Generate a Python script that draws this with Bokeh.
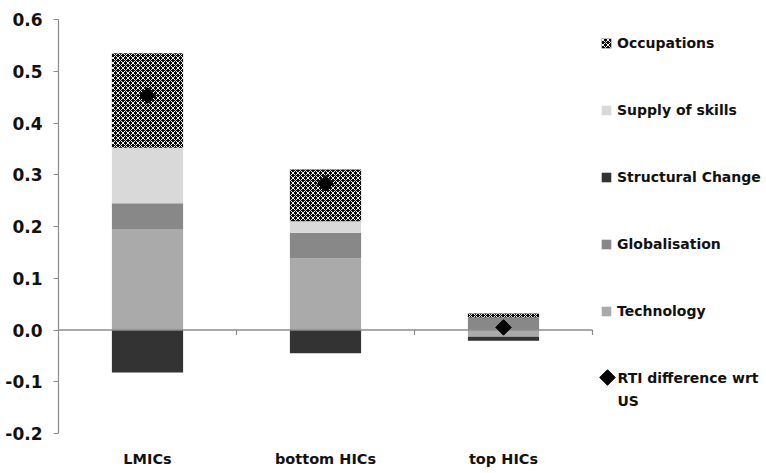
import numpy as np
from bokeh.plotting import figure
from bokeh.models import (Range1d, FixedTicker, PrintfTickFormatter, Legend,
                          LegendItem, ColumnDataSource, Label)
from bokeh.embed import file_html
from bokeh.resources import INLINE

categories = ["LMICs", "bottom HICs", "top HICs"]
technology = [0.195, 0.138, -0.013]
globalisation = [0.050, 0.050, 0.024]
structural_change = [-0.082, -0.045, -0.008]
supply_of_skills = [0.107, 0.022, 0.000]
occupations = [0.183, 0.100, 0.008]
rti_difference = [0.453, 0.283, 0.005]
y_ticks = [-0.2, -0.1, 0.0, 0.1, 0.2, 0.3, 0.4, 0.5, 0.6]

series = [
    ("Technology", technology, dict(fill_color="#aaaaaa")),
    ("Globalisation", globalisation, dict(fill_color="#888888")),
    ("Structural Change", structural_change, dict(fill_color="#333333")),
    ("Supply of skills", supply_of_skills, dict(fill_color="#d9d9d9")),
    ("Occupations", occupations, dict(fill_color="#0a0a0a", hatch_pattern="diagonal_cross",
                                      hatch_color="#f0f0f0", hatch_scale=5, hatch_weight=1.0)),
]

FONT = "DejaVu Sans"
W, H = 766, 473
LEFT, TOP, BOTTOM = 58, 19, 40
AXIS_PX = 534                      # pixel width of the category axis area
n = len(categories)
frame_w = W - LEFT
frame_h = H - TOP - BOTTOM
x_end = n * frame_w / AXIS_PX      # extra room on the right holds the legend
y0, y1 = -0.2, 0.6


def px_to_data(px, py):
    """Convert page pixel position to data coordinates (for legend decorations)."""
    return ((px - LEFT) * x_end / frame_w, y0 + (H - BOTTOM - py) * (y1 - y0) / frame_h)


p = figure(width=W, height=H, output_backend="svg", toolbar_location=None,
           x_range=Range1d(0, x_end), y_range=Range1d(y0, y1),
           min_border_left=LEFT, min_border_right=0, min_border_top=TOP,
           min_border_bottom=BOTTOM)
p.outline_line_color = None
p.xgrid.visible = False
p.ygrid.visible = False
p.background_fill_color = "white"
p.border_fill_color = "white"

xs = np.arange(n) + 0.5
pos_base = np.zeros(n)
neg_base = np.zeros(n)
renderers = {}
for name, vals, style in series:
    v = np.array(vals, dtype=float)
    bottoms = np.where(v >= 0, pos_base, neg_base)
    tops = bottoms + v
    pos_base = np.where(v >= 0, tops, pos_base)
    neg_base = np.where(v < 0, tops, neg_base)
    src = ColumnDataSource(dict(x=xs, bottom=bottoms, top=tops))
    r = p.vbar(x="x", bottom="bottom", top="top", width=0.4, source=src,
               line_color=None, **style)
    renderers[name] = r

# horizontal axis line at zero with small tick marks between categories
p.segment(x0=[0], y0=[0], x1=[n], y1=[0], line_color="#8c8c8c", line_width=1.5)
bounds = np.arange(1, n + 1)
tick_len = 5 * (y1 - y0) / frame_h
p.segment(x0=bounds, y0=[0] * n, x1=bounds, y1=[-tick_len] * n,
          line_color="#8c8c8c", line_width=1.2)

diamond_style = dict(marker="square", angle=np.pi / 4, size=11,
                     fill_color="black", line_color="black")
rti = p.scatter(x=xs, y=rti_difference, **diamond_style)

# y axis
p.yaxis.ticker = FixedTicker(ticks=y_ticks)
p.yaxis.formatter = PrintfTickFormatter(format="%.1f")
p.yaxis.axis_line_color = "#8c8c8c"
p.yaxis.axis_line_width = 1.2
p.yaxis.major_tick_line_color = "#8c8c8c"
p.yaxis.major_tick_out = 5
p.yaxis.major_tick_in = 0
p.yaxis.minor_tick_line_color = None
p.yaxis.major_label_text_font = FONT
p.yaxis.major_label_text_font_style = "bold"
p.yaxis.major_label_text_font_size = "17px"
p.yaxis.major_label_text_color = "#111111"
p.yaxis.major_label_standoff = 11

# x axis (category labels only)
p.xaxis.ticker = FixedTicker(ticks=list(xs))
p.xaxis.major_label_overrides = {float(x): c for x, c in zip(xs, categories)}
p.xaxis.axis_line_color = None
p.xaxis.major_tick_line_color = None
p.xaxis.minor_tick_line_color = None
p.xaxis.major_tick_out = 0
p.xaxis.major_label_standoff = 17
p.xaxis.major_label_text_font = FONT
p.xaxis.major_label_text_font_style = "bold"
p.xaxis.major_label_text_font_size = "14.5px"
p.xaxis.major_label_text_color = "#111111"

items = [LegendItem(label=name, renderers=[renderers[name]])
         for name in ["Occupations", "Supply of skills", "Structural Change",
                      "Globalisation", "Technology"]]
legend = Legend(items=items, location=(542, 112), spacing=47, label_height=20,
                glyph_width=12, glyph_height=12, label_standoff=5,
                orientation="vertical", margin=0, padding=0,
                label_text_font=FONT, label_text_font_style="bold",
                label_text_font_size="14px", label_text_color="#111111",
                border_line_color=None, background_fill_alpha=0)
p.add_layout(legend)

# legend entry for the diamond series (rotated marker)
dx, dy = px_to_data(607, 377)
p.scatter(x=[dx], y=[dy], **diamond_style)
for txt, ypx in [("RTI difference wrt", 377), ("US", 400)]:
    tx, ty = px_to_data(617, ypx)
    p.add_layout(Label(x=tx, y=ty, text=txt, text_font=FONT, text_font_style="bold",
                       text_font_size="14px", text_color="#111111",
                       text_baseline="middle"))

open("out.html", "w").write(file_html(p, INLINE))
